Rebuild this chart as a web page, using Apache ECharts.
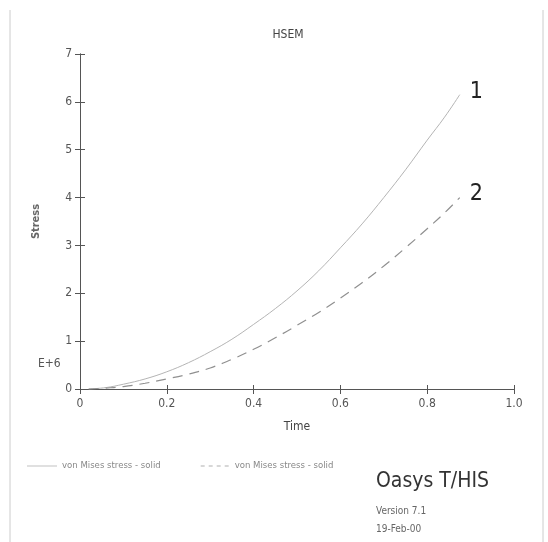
<!DOCTYPE html>
<html>
<head>
<meta charset="utf-8">
<script src="https://cdn.jsdelivr.net/npm/echarts@6/dist/echarts.min.js"></script>
<style>
  html, body { margin: 0; padding: 0; background: #fff; }
  #chart { width: 548px; height: 542px; }
</style>
</head>
<body>
<div id="chart"></div>
<script>
// time values and stress (E+6)
const timeSolid = [0.02, 0.06, 0.1, 0.15, 0.2, 0.25, 0.3, 0.35, 0.4, 0.45, 0.5, 0.55, 0.6, 0.65, 0.7, 0.75, 0.8, 0.84, 0.875];
const stressSolid = [0, 0.03, 0.1, 0.21, 0.36, 0.55, 0.78, 1.04, 1.35, 1.68, 2.05, 2.47, 2.95, 3.45, 4.0, 4.58, 5.2, 5.68, 6.15];
const timeDashed = [0.02, 0.06, 0.1, 0.15, 0.2, 0.25, 0.3, 0.35, 0.4, 0.45, 0.5, 0.55, 0.6, 0.65, 0.7, 0.75, 0.8, 0.84, 0.875];
const stressDashed = [0, 0.02, 0.05, 0.12, 0.21, 0.31, 0.44, 0.62, 0.83, 1.07, 1.33, 1.6, 1.9, 2.22, 2.57, 2.95, 3.35, 3.68, 4.0];
const seriesNames = ['von Mises stress - solid', 'von Mises stress - solid '];
const curveTags = ['1', '2'];
const xTickLabels = ['0', '0.2', '0.4', '0.6', '0.8', '1.0'];
const yTickLabels = ['0', '1', '2', '3', '4', '5', '6', '7'];

const font = '"DejaVu Sans Condensed", "Liberation Sans", sans-serif';
const axisColor = '#555';

function pairs(xs, ys) {
  return xs.map((x, i) => [x, ys[i]]);
}

const chart = echarts.init(document.getElementById('chart'));

chart.setOption({
  backgroundColor: '#fff',
  animation: false,
  title: {
    text: 'HSEM',
    left: 283,
    top: 24,
    textAlign: 'center',
    textStyle: { fontFamily: font, fontSize: 12, fontWeight: 'normal', color: '#444' },
  },
  grid: { left: 80, right: 34, top: 54, bottom: 153 },
  legend: {
    left: 22,
    top: 456,
    orient: 'horizontal',
    itemWidth: 30,
    itemHeight: 1,
    itemGap: 40,
    textStyle: { fontFamily: font, fontSize: 9.5, color: '#888' },
    data: [
      { name: seriesNames[0], icon: 'path://M0,0H30V1H0Z', itemStyle: { color: '#c0c0c0' } },
      { name: seriesNames[1], icon: 'path://M0,0h4v1h-4zM8,0h4v1h-4zM16,0h4v1h-4zM24,0h4v1h-4z', itemStyle: { color: '#b0b0b0' } },
    ],
  },
  xAxis: [
    {
      type: 'value', min: 0, max: 1, interval: 0.2,
      name: 'Time', nameLocation: 'middle', nameGap: 32,
      nameTextStyle: { fontFamily: font, fontSize: 12, color: '#444' },
      axisLine: { lineStyle: { color: axisColor } },
      axisTick: { show: true, length: 5, lineStyle: { color: axisColor } },
      axisLabel: {
        fontFamily: font, fontSize: 12, color: '#555', margin: 9,
        formatter: v => xTickLabels[Math.round(v / 0.2)],
      },
      splitLine: { show: false },
    },
    {
      type: 'value', min: 0, max: 1, interval: 0.2, position: 'top',
      axisLine: { lineStyle: { color: axisColor } },
      axisTick: { show: true, length: 4, lineStyle: { color: axisColor } },
      axisLabel: { show: false },
      splitLine: { show: false },
    },
  ],
  yAxis: [
    {
      type: 'value', min: 0, max: 7, interval: 1,
      name: 'Stress', nameLocation: 'middle', nameGap: 38, nameRotate: 90,
      nameTextStyle: { fontFamily: font, fontSize: 11, color: '#666', fontWeight: 'bold' },
      axisLine: { lineStyle: { color: axisColor } },
      axisTick: { show: true, length: 5, lineStyle: { color: axisColor } },
      axisLabel: {
        fontFamily: font, fontSize: 12, color: '#555', margin: 8,
        formatter: v => yTickLabels[Math.round(v)],
      },
      splitLine: { show: false },
    },
    {
      type: 'value', min: 0, max: 7, interval: 1, position: 'right',
      axisLine: { lineStyle: { color: axisColor } },
      axisTick: { show: true, length: 5, lineStyle: { color: axisColor } },
      axisLabel: { show: false },
      splitLine: { show: false },
    },
  ],
  series: [
    {
      name: seriesNames[0],
      type: 'line',
      data: pairs(timeSolid, stressSolid),
      smooth: 0.4,
      symbol: 'none',
      lineStyle: { color: '#b4b4b4', width: 1 },
      itemStyle: { color: '#b4b4b4' },
      endLabel: {
        show: true, formatter: curveTags[0], distance: 10, offset: [0, -3],
        fontFamily: font, fontSize: 23, color: '#222',
      },
    },
    {
      name: seriesNames[1],
      type: 'line',
      data: pairs(timeDashed, stressDashed),
      smooth: 0.4,
      symbol: 'none',
      lineStyle: { color: '#909090', width: 1.2, type: [10, 7] },
      itemStyle: { color: '#909090' },
      endLabel: {
        show: true, formatter: curveTags[1], distance: 10, offset: [0, -4],
        fontFamily: font, fontSize: 23, color: '#222',
      },
    },
  ],
  graphic: [
    { type: 'line', shape: { x1: 10, y1: 10, x2: 10, y2: 542 }, style: { stroke: '#ccc', lineWidth: 1 } },
    { type: 'line', shape: { x1: 543, y1: 10, x2: 543, y2: 542 }, style: { stroke: '#ccc', lineWidth: 1 } },
    { type: 'text', left: 38, top: 358, style: { text: 'E+6', font: '12px ' + font, fill: '#555' } },
    { type: 'text', left: 376, top: 471, style: { text: 'Oasys T/HIS', font: '21px ' + font, fill: '#333' } },
    { type: 'text', left: 376, top: 506, style: { text: 'Version 7.1', font: '10px ' + font, fill: '#666' } },
    { type: 'text', left: 376, top: 524, style: { text: '19-Feb-00', font: '10px ' + font, fill: '#666' } },
  ],
});
</script>
</body>
</html>
